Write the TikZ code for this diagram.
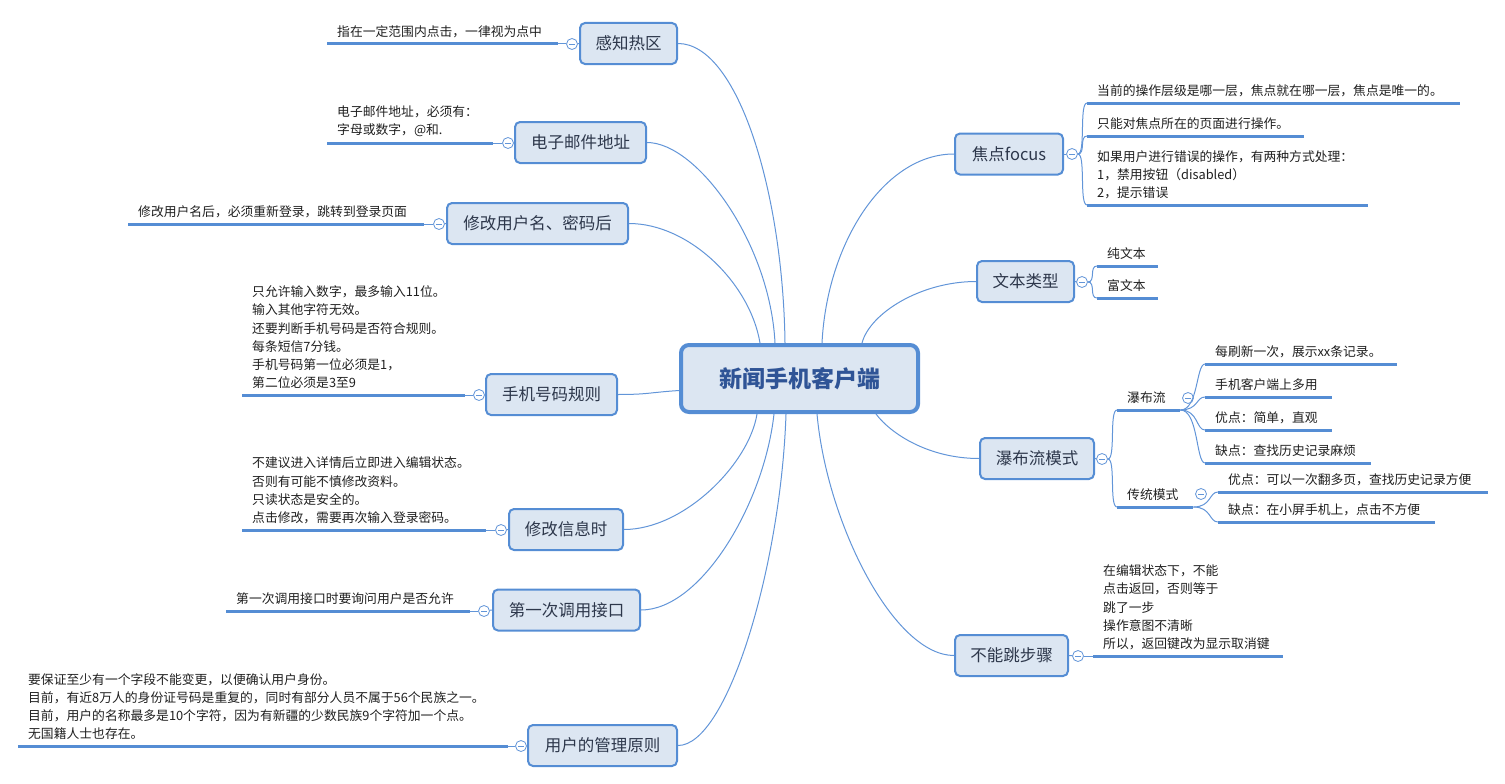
\documentclass[tikz,border=0pt]{standalone}
\usepackage{fontspec}
\setmainfont{Noto Sans CJK SC}
\definecolor{paper}{RGB}{220,230,242}
\definecolor{frame}{RGB}{85,141,212}
\definecolor{wire}{RGB}{98,149,216}
\definecolor{slate}{RGB}{45,55,75}
\definecolor{navy}{RGB}{47,84,150}
\tikzset{
  hub/.style={draw=frame,fill=paper,line width=4bp,rounded corners=8bp,
    minimum width=237bp,minimum height=67bp,text=navy,
    font=\fontsize{23bp}{28bp}\selectfont\bfseries},
  topic/.style={draw=frame,fill=paper,line width=2bp,rounded corners=5bp,
    minimum width=#1bp,minimum height=41bp,inner sep=0pt,text=slate,
    font=\fontsize{16.5bp}{20bp}\selectfont},
  leaf/.style={anchor=south west,align=left,text width=#1bp,inner xsep=10bp,
    inner ysep=6bp,text=black!88,font=\fontsize{12.8bp}{18.2bp}\selectfont},
  bar/.style={draw=frame,line width=3bp},
  link/.style={draw=wire,line width=1bp},
  fold/.style={circle,draw=wire,fill=white,line width=0.8bp,minimum size=11bp,
    inner sep=0pt,path picture={
      \draw[wire,line width=0.8bp] ([xshift=-3bp]path picture bounding box.center)
        -- ([xshift=3bp]path picture bounding box.center);}},
}
\begin{document}
\begin{tikzpicture}[x=1bp,y=-1bp]
  \useasboundingbox (0,0) rectangle (1505,783);
  % root
  \node[hub] (M) at (799.5,378.5) {新闻手机客户端};
  % main topics
  \foreach \n/\x/\y/\w/\t in {T1/628.5/43.5/97/感知热区,T2/580.5/142.5/131/电子邮件地址,
    T3/537.5/223.5/181/修改用户名、密码后,T4/551.5/394.5/131/手机号码规则,
    T5/566/529.5/114/修改信息时,T6/566.5/610/147/第一次调用接口,
    T7/602.5/745.5/149/用户的管理原则,R1/1009/154/108/焦点focus,
    R2/1025.5/281.5/97/文本类型,R3/1037/458.5/114/瀑布流模式,R4/1011.5/655.5/113/不能跳步骤}
    \node[topic=\w] (\n) at (\x,\y) {\t};
  % fold marks
  \foreach \n/\x/\y in {c1/572/44,c2/508/143,c3/439/224,c4/479/395,c5/501/530,c6/484/611,
    c7/521/746,d1/1072/154,d2/1082/282,d3/1102/459,d4/1078/656,e1/1188/398,e2/1201/494}
    \node[fold] (\n) at (\x,\y) {};
  % root links
  \draw[link] (T1.east) .. controls +(60,0) and +(-2,-150) .. ([xshift=106bp]M.north west);
  \draw[link] (T2.east) .. controls +(50,0) and +(-5,-100) .. ([xshift=96bp]M.north west);
  \draw[link] (T3.east) .. controls +(60,0) and +(-10,-60) .. ([xshift=81bp]M.north west);
  \draw[link] (T4.east) .. controls +(30,0) and +(-30,2) .. ([yshift=-12bp]M.west);
  \draw[link] (T5.east) .. controls +(60,0) and +(-8,50) .. ([xshift=78bp]M.south west);
  \draw[link] (T6.east) .. controls +(60,0) and +(-10,90) .. ([xshift=95bp]M.south west);
  \draw[link] (T7.east) .. controls +(50,0) and +(-5,150) .. ([xshift=107bp]M.south west);
  \draw[link] (R1.west) .. controls +(-70,0) and +(5,-100) .. ([xshift=143bp]M.north west);
  \draw[link] (R2.west) .. controls +(-55,0) and +(8,-30) .. ([xshift=183bp]M.north west);
  \draw[link] (R3.west) .. controls +(-50,0) and +(15,20) .. ([xshift=197bp]M.south west);
  \draw[link] (R4.west) .. controls +(-60,0) and +(10,110) .. ([xshift=138bp]M.south west);
  % left leaves
  \foreach \i/\x/\y/\w/\t in {
    1/327/44/211/{指在一定范围内点击，一律视为点中},
    2/327/143/146/{电子邮件地址，必须有：\\字母或数字，@和.},
    3/128/224/276/{修改用户名后，必须重新登录，跳转到登录页面},
    4/242/395/203/{只允许输入数字，最多输入11位。\\输入其他字符无效。\\还要判断手机号码是否符合规则。\\每条短信7分钱。\\手机号码第一位必须是1，\\第二位必须是3至9},
    5/242/530/224/{不建议进入详情后立即进入编辑状态。\\否则有可能不慎修改资料。\\只读状态是安全的。\\点击修改，需要再次输入登录密码。},
    6/226/611/224/{第一次调用接口时要询问用户是否允许},
    7/18/746/470/{要保证至少有一个字段不能变更，以便确认用户身份。\\目前，有近8万人的身份证号码是重复的，同时有部分人员不属于56个民族之一。\\目前，用户的名称最多是10个字符，因为有新疆的少数民族9个字符加一个点。\\无国籍人士也存在。}}{
    \node[leaf=\w] (L\i) at (\x,\y) {\t};
    \draw[bar] (L\i.south west) -- (L\i.south east);
    \draw[link] (L\i.south east) -- (c\i);
    \draw[link] (c\i) -- (T\i.west);
  }
  % right leaves
  \foreach \n/\x/\y/\w/\t in {
    F1/1087/103/353/{当前的操作层级是哪一层，焦点就在哪一层，焦点是唯一的。},
    F2/1087/136/197/{只能对焦点所在的页面进行操作。},
    F3/1087/205/261/{如果用户进行错误的操作，有两种方式处理：\\1，禁用按钮（disabled）\\2，提示错误},
    X1/1097/266/41/纯文本,X2/1097/298/41/富文本,
    W1/1117/410/43/瀑布流,W2/1117/507/56/传统模式,
    W11/1205/364/172/{每刷新一次，展示xx条记录。},W12/1205/397/107/手机客户端上多用,
    W13/1205/430/107/{优点：简单，直观},W14/1205/463/146/{缺点：查找历史记录麻烦},
    W21/1218/492/250/{优点：可以一次翻多页，查找历史记录方便},
    W22/1218/522/197/{缺点：在小屏手机上，点击不方便},
    N1/1093/656/170/{在编辑状态下，不能\\点击返回，否则等于\\跳了一步\\操作意图不清晰\\所以，返回键改为显示取消键}}{
    \node[leaf=\w] (\n) at (\x,\y) {\t};
    \draw[bar] (\n.south west) -- (\n.south east);
  }
  \foreach \a/\b in {R1/d1,R2/d2,R3/d3,R4/d4} \draw[link] (\a.east) -- (\b);
  \foreach \n in {F1,F2,F3} \draw[link] (d1.east) .. controls +(8,0) and +(-8,0) .. (\n.south west);
  \foreach \n in {X1,X2} \draw[link] (d2.east) .. controls +(8,0) and +(-8,0) .. (\n.south west);
  \foreach \n in {W1,W2} \draw[link] (d3.east) .. controls +(8,0) and +(-8,0) .. (\n.south west);
  \draw[link] (d4) -- (N1.south west);
  \foreach \n in {W11,W12,W13,W14} \draw[link] (W1.south east) .. controls +(18,0) and +(-9,0) .. (\n.south west);
  \foreach \n in {W21,W22} \draw[link] (W2.south east) .. controls +(18,0) and +(-9,0) .. (\n.south west);
\end{tikzpicture}
\end{document}
